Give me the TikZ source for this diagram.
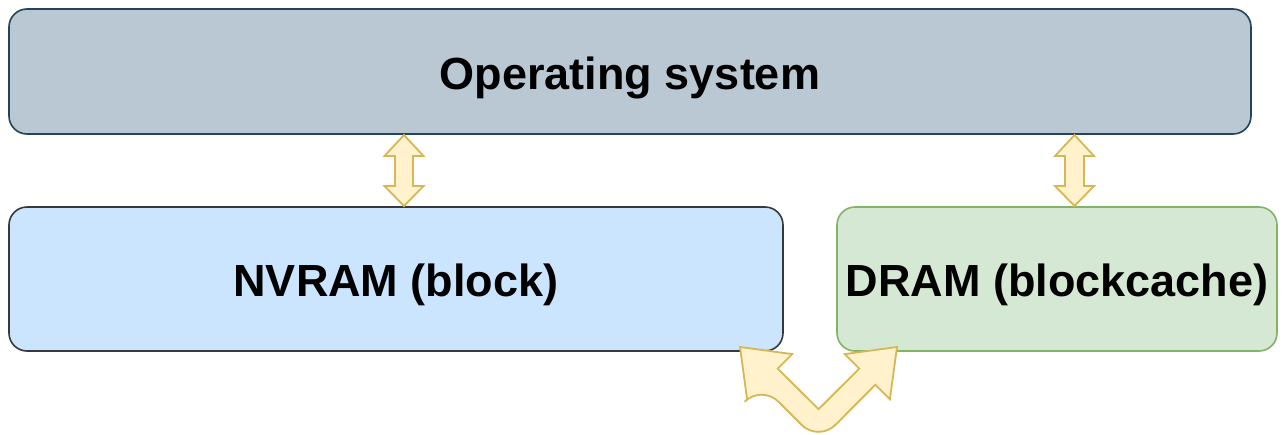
\documentclass[tikz,border=0pt]{standalone}
\usepackage{fontspec}
\setmainfont{Liberation Sans}
\definecolor{osfill}{HTML}{BAC8D3}
\definecolor{osline}{HTML}{23445D}
\definecolor{nvfill}{HTML}{CCE5FF}
\definecolor{nvline}{HTML}{36393D}
\definecolor{drfill}{HTML}{D5E8D4}
\definecolor{drline}{HTML}{82B366}
\definecolor{arfill}{HTML}{FFF2CC}
\definecolor{arline}{HTML}{D6B656}
\newcommand{\boxlabel}[1]{\raisebox{-6pt}[\height][\depth]{#1}}
\begin{document}
\begin{tikzpicture}[x=1pt,y=-1pt,
  box/.style={draw, line width=1.6pt, rounded corners=18pt, inner sep=0pt,
    font=\fontsize{45}{50}\selectfont\bfseries},
  flexarrow/.style={draw=arline, fill=arfill, line width=1.8pt, line join=miter}]
\useasboundingbox (0,0) rectangle (1284,434);
\node[box, fill=osfill, draw=osline, minimum width=1242pt, minimum height=125pt] (os) at (630,71.5) {\boxlabel{Operating system}};
\node[box, fill=nvfill, draw=nvline, minimum width=774pt, minimum height=144pt] (nv) at (396,279) {\boxlabel{NVRAM (block)}};
\node[box, fill=drfill, draw=drline, minimum width=440pt, minimum height=144pt] (dr) at (1057,279) {\boxlabel{DRAM (blockcache)}};
% vertical double arrows
\draw[flexarrow] (404,135) -- (423.5,156) -- (413,156) -- (413,186) -- (423.5,186) -- (404,206)
  -- (384.5,186) -- (395,186) -- (395,156) -- (384.5,156) -- cycle;
\draw[flexarrow] (1074.5,135) -- (1094,156) -- (1084,156) -- (1084,186) -- (1094,186) -- (1074.5,206)
  -- (1055,186) -- (1065,186) -- (1065,156) -- (1055,156) -- cycle;
% bent double arrow
\draw[flexarrow] (740,347) -- (792.3,354.1) -- (777.8,368.6) -- (818.5,409.2) -- (859.2,368.6)
  -- (844.7,354.1) -- (897,347) -- (889.9,399.3) -- (875.4,384.8)
  [rounded corners=24pt] -- (818.5,441.8) -- (761.6,384.8) [sharp corners] -- (747.1,399.3) -- cycle;
\end{tikzpicture}
\end{document}
